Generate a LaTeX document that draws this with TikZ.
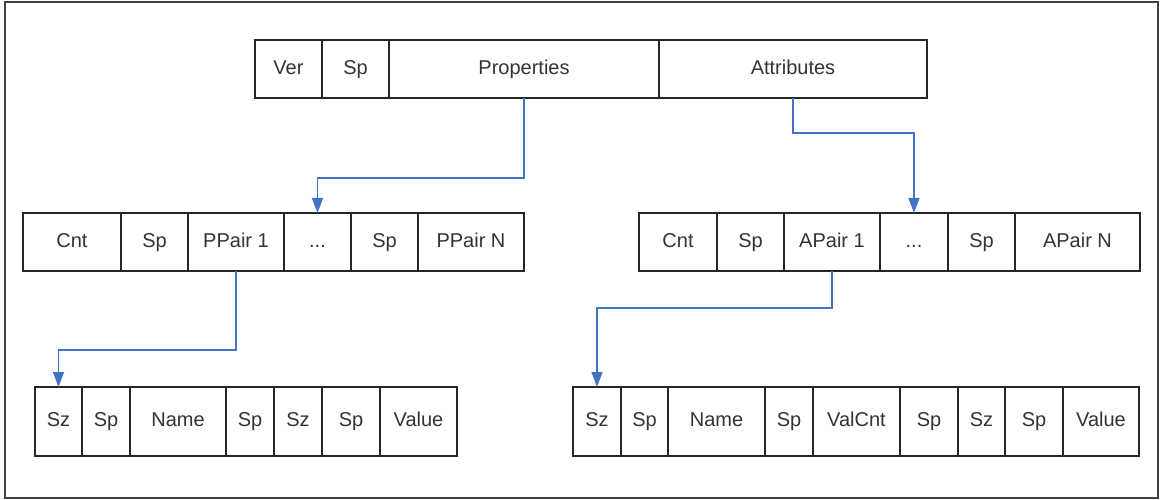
\documentclass[tikz,border=0pt]{standalone}
\usepackage{fontspec}
\setmainfont{Liberation Sans}
\usetikzlibrary{arrows.meta}
\definecolor{linkblue}{RGB}{68,114,196}
\definecolor{framegray}{RGB}{64,64,64}
\tikzset{
  cell/.style={draw=black!85, line width=1.3pt, inner sep=0pt, outer sep=0pt,
    anchor=north west, font=\fontsize{20}{24}\selectfont, text=black!80,
    text height=14.5pt, text depth=4pt},
  link/.style={draw=linkblue, line width=1.3pt,
    -{Triangle[length=15pt,width=11pt]}},
}
% \cellbox{name}{x1}{x2}{y1}{y2}{text}
\newcommand{\cellbox}[6]{%
  \pgfmathsetmacro{\cw}{#3-#2}\pgfmathsetmacro{\ch}{#5-#4}%
  \node[cell, minimum width=\cw pt, minimum height=\ch pt] (#1) at (#2,#4) {#6};}
\begin{document}
\begin{tikzpicture}[x=1pt,y=-1pt]
\useasboundingbox (0,0) rectangle (1160,500);
\draw[framegray, line width=1.5pt] (5,2) rectangle (1158,498);
% top row
\cellbox{ver}{255}{322}{40}{98}{Ver}
\cellbox{tsp}{322}{389}{40}{98}{Sp}
\cellbox{prop}{389}{659}{40}{98}{Properties}
\cellbox{attr}{659}{927}{40}{98}{Attributes}
% middle left
\cellbox{pcnt}{23}{121}{213}{271}{Cnt}
\cellbox{psp1}{121}{188}{213}{271}{Sp}
\cellbox{ppair1}{188}{284}{213}{271}{PPair 1}
\cellbox{pdots}{284}{351}{213}{271}{...}
\cellbox{psp2}{351}{418}{213}{271}{Sp}
\cellbox{ppairn}{418}{524}{213}{271}{PPair N}
% middle right
\cellbox{acnt}{639}{717}{213}{271}{Cnt}
\cellbox{asp1}{717}{784}{213}{271}{Sp}
\cellbox{apair1}{784}{880}{213}{271}{APair 1}
\cellbox{adots}{880}{948}{213}{271}{...}
\cellbox{asp2}{948}{1015}{213}{271}{Sp}
\cellbox{apairn}{1015}{1140}{213}{271}{APair N}
% bottom left
\cellbox{lsz1}{35}{82}{387}{456}{Sz}
\cellbox{lsp1}{82}{130}{387}{456}{Sp}
\cellbox{lname}{130}{226}{387}{456}{Name}
\cellbox{lsp2}{226}{274}{387}{456}{Sp}
\cellbox{lsz2}{274}{322}{387}{456}{Sz}
\cellbox{lsp3}{322}{380}{387}{456}{Sp}
\cellbox{lval}{380}{457}{387}{456}{Value}
% bottom right
\cellbox{rsz1}{573}{621}{387}{456}{Sz}
\cellbox{rsp1}{621}{668}{387}{456}{Sp}
\cellbox{rname}{668}{765}{387}{456}{Name}
\cellbox{rsp2}{765}{813}{387}{456}{Sp}
\cellbox{rvalcnt}{813}{900}{387}{456}{ValCnt}
\cellbox{rsp3}{900}{958}{387}{456}{Sp}
\cellbox{rsz2}{958}{1005}{387}{456}{Sz}
\cellbox{rsp4}{1005}{1063}{387}{456}{Sp}
\cellbox{rval}{1063}{1139}{387}{456}{Value}
% connectors
\draw[link] (prop.south -| 524,0) -- (524,178) -| (pdots.north);
\draw[link] (attr.south -| 793,0) -- (793,133) -| (adots.north);
\draw[link] (ppair1.south) -- ++(0,79) -| (lsz1.north);
\draw[link] (apair1.south) -- ++(0,37) -| (rsz1.north);
\end{tikzpicture}
\end{document}
